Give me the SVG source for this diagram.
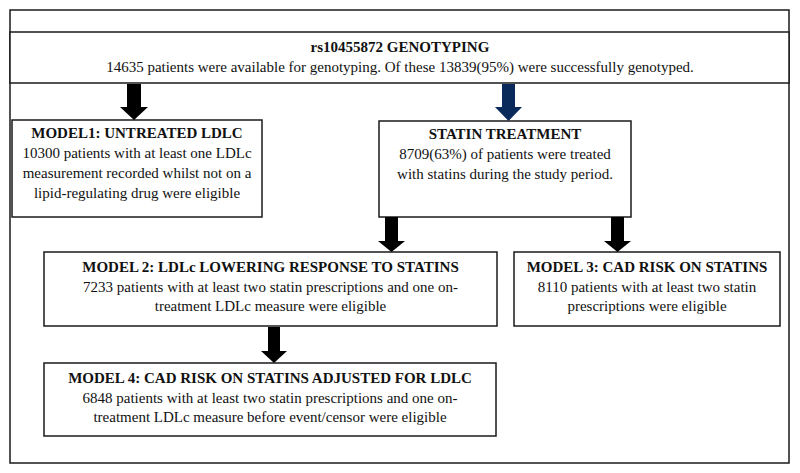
<svg xmlns="http://www.w3.org/2000/svg" width="800" height="473" viewBox="0 0 800 473">
<style>
.box{fill:#fff;stroke:#1a1a1a;stroke-width:1.5}
.t{font-family:"Liberation Serif","Times New Roman",serif;font-size:15px;fill:#111;text-anchor:middle}
.b{font-weight:bold}
.arr{fill:#000}
.navy{fill:#0b2a5c}
</style>
<rect x="0" y="0" width="800" height="473" fill="#fff"/>
<rect class="box" x="10" y="10" width="779" height="453"/>
<g id="genotyping">
<rect class="box" x="10" y="32" width="779" height="51"/>
<text class="t b" x="400" y="52">rs10455872 GENOTYPING</text>
<text class="t" x="400" y="72">14635 patients were available for genotyping. Of these 13839(95%) were successfully genotyped.</text>
</g>
<g id="model1">
<rect class="box" x="12" y="120" width="250" height="97"/>
<text class="t b" x="137" y="138">MODEL1: UNTREATED LDLC</text>
<text class="t" x="137" y="158">10300 patients with at least one LDLc</text>
<text class="t" x="137" y="178">measurement recorded whilst not on a</text>
<text class="t" x="137" y="198">lipid-regulating drug were eligible</text>
</g>
<g id="statin">
<rect class="box" x="379" y="121" width="252" height="96"/>
<text class="t b" x="505" y="139">STATIN TREATMENT</text>
<text class="t" x="505" y="159">8709(63%) of patients were treated</text>
<text class="t" x="505" y="179">with statins during the study period.</text>
</g>
<g id="model2">
<rect class="box" x="44" y="252" width="453" height="74"/>
<text class="t b" x="270.5" y="272">MODEL 2: LDLc LOWERING RESPONSE TO STATINS</text>
<text class="t" x="270.5" y="292">7233 patients with at least two statin prescriptions and one on-</text>
<text class="t" x="270.5" y="311">treatment LDLc measure were eligible</text>
</g>
<g id="model3">
<rect class="box" x="514" y="252" width="266" height="74"/>
<text class="t b" x="647" y="272">MODEL 3: CAD RISK ON STATINS</text>
<text class="t" x="647" y="292">8110 patients with at least two statin</text>
<text class="t" x="647" y="311">prescriptions were eligible</text>
</g>
<g id="model4">
<rect class="box" x="44" y="363" width="452" height="73"/>
<text class="t b" x="270" y="383">MODEL 4: CAD RISK ON STATINS ADJUSTED FOR LDLC</text>
<text class="t" x="270" y="403">6848 patients with at least two statin prescriptions and one on-</text>
<text class="t" x="270" y="422">treatment LDLc measure before event/censor were eligible</text>
</g>
<g id="connectors">
<polygon class="arr" points="127,84 141,84 141,107 148,107 134,120 120,107 127,107"/>
<polygon class="navy" points="502,84 515,84 515,107 522,107 508.5,121 495,107 502,107"/>
<polygon class="arr" points="385,217 398,217 398,241 405,241 391.5,252 378,241 385,241"/>
<polygon class="arr" points="611,217 624,217 624,241 631,241 617.5,252 604,241 611,241"/>
<polygon class="arr" points="268,327 280,327 280,351 287,351 274,363 261,351 268,351"/>
</g>
</svg>
